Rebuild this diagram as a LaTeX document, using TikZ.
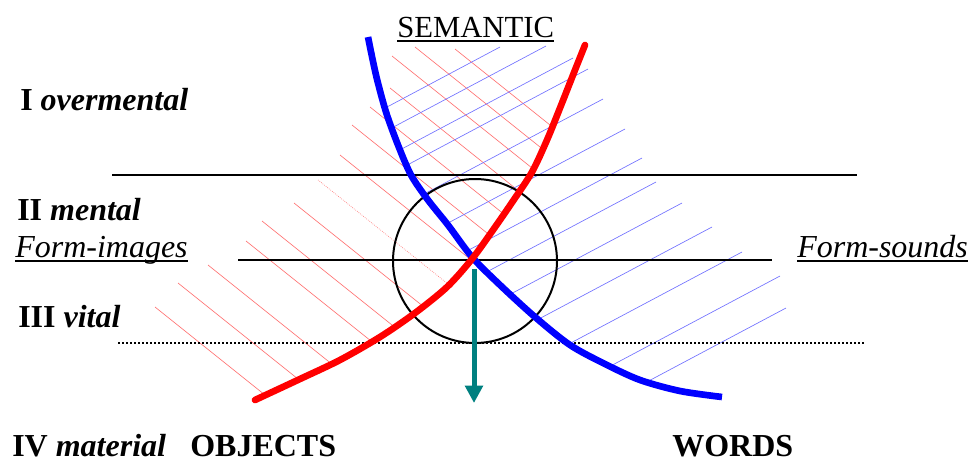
\documentclass[tikz,border=0pt]{standalone}
\usepackage{fontspec}
\setmainfont{Liberation Serif}
\usetikzlibrary{arrows.meta}
\definecolor{arrowteal}{RGB}{0,128,128}
\tikzset{
  lvl/.style={anchor=base west, inner sep=0pt, font=\fontsize{24}{28}\selectfont},
  levelline/.style={line width=1.5pt},
  underl/.style={line width=1.5pt},
  redhatch/.style={red!55, line width=0.5pt},
  bluehatch/.style={blue!55, line width=0.5pt},
  curve/.style={line width=5pt}
}

\begin{document}
\begin{tikzpicture}[x=0.75pt, y=-0.75pt]
    \useasboundingbox (0,0) rectangle (971,464);

    % hatching on the objects side
    \begin{scope}
      \clip plot[smooth] coordinates {(255,400) (300,379) (340,360) (380,337) (415,313) (447,287) (472,259) (493,230) (513,201) (532,172) (547,140) (560,108) (575,70) (585,45)}
        -- (590,0) -- (0,0) -- (0,440) -- (200,428) -- cycle;
      \foreach \x/\y in {155/307, 178/283, 208/265, 246/241, 262/221, 294/203, 340/155, 352/125, 370/107, 390/88, 392/56, 415/47, 455/49}
        \draw[redhatch] (\x,\y) -- ++(300,240);
      \draw[redhatch, densely dotted] (318,180) -- ++(300,240);
    \end{scope}

    % hatching on the words side
    \begin{scope}
      \clip plot[smooth] coordinates {(368,37) (376,75) (386,112) (398,145) (411,175) (428,200) (448,225) (472,257) (500,285) (535,317) (570,345) (605,364) (640,380) (680,391) (722,397)}
        -- (800,410) -- (971,410) -- (971,0) -- (368,0) -- cycle;
      \foreach \x/\y in {500/47, 546/46, 573/58, 588/69, 603/99, 625/129, 642/158, 656/182, 682/203, 712/227, 742/252, 780/276, 786/308}
        \draw[bluehatch] (\x,\y) -- ++(-320,170);
    \end{scope}

    \draw[levelline] (112,175) -- (857,175);
    \draw[levelline] (238,260) -- (772,260);
    \draw[levelline, dash pattern=on 1.5pt off 1.5pt] (118,343) -- (865,343);

    \draw[line width=1.5pt] (475,261) circle[radius=61.5pt];

    \draw[curve, blue] plot[smooth] coordinates {(368,37) (376,75) (386,112) (398,145) (411,175) (428,200) (448,225) (472,257) (500,285) (535,317) (570,345) (605,364) (640,380) (680,391) (722,397)};
    \draw[curve, red, line cap=round] plot[smooth] coordinates {(255,400) (300,379) (340,360) (380,337) (415,313) (447,287) (472,259) (493,230) (513,201) (532,172) (547,140) (560,108) (575,70) (585,45)};

    \coordinate (cross) at (474,260);
    \coordinate (arrowtip) at (474,403);
    \draw[arrowteal, line width=3.75pt, -{Triangle[width=13pt,length=13pt]}] ([yshift=-7pt]cross) -- (arrowtip);

    \node[lvl, font=\fontsize{23}{27}\selectfont] (semantic) at (397,37) {SEMANTIC};
    \draw[underl] ([yshift=-3pt]semantic.base west) -- ([yshift=-3pt]semantic.base east);

    \node[lvl] (overmental) at (20,110) {\textbf{I \textit{overmental}}};
    \node[lvl] (mental) at (17,220) {\textbf{II \textit{mental}}};
    \node[lvl] (formimages) at (15,257) {\textit{Form-images}};
    \draw[underl] ([yshift=-3pt]formimages.base west) -- ([yshift=-3pt]formimages.base east);
    \node[lvl] (formsounds) at (797,257) {\textit{Form-sounds}};
    \draw[underl] ([yshift=-3pt]formsounds.base west) -- ([yshift=-3pt]formsounds.base east);
    \node[lvl] (vital) at (18,327) {\textbf{III \textit{vital}}};
    \node[lvl] (material) at (12,456) {\textbf{IV \textit{material}}};
    \node[lvl] (objects) at (190,456) {\textbf{OBJECTS}};
    \node[lvl] (words) at (672,456) {\textbf{WORDS}};
\end{tikzpicture}
\end{document}
